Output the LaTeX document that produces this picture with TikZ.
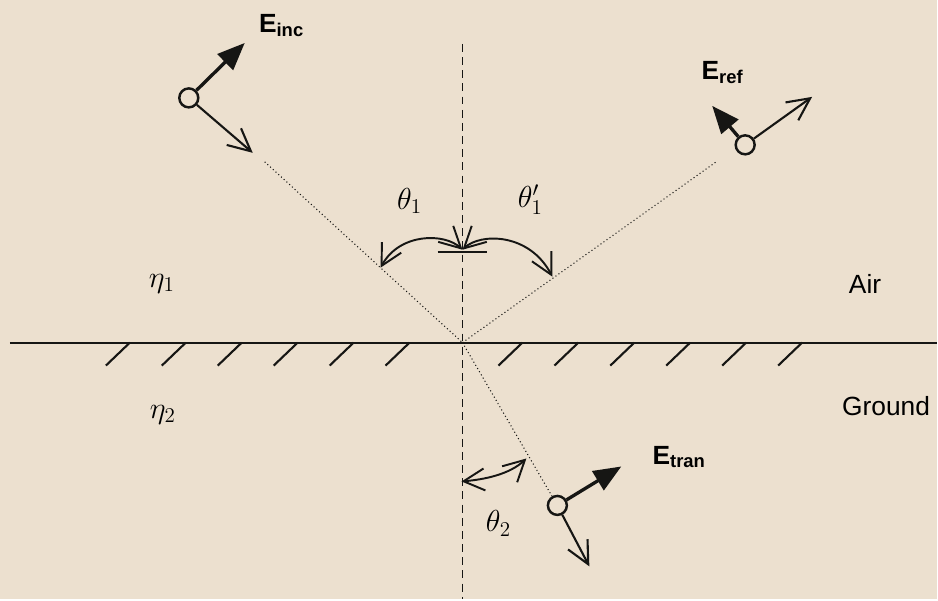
\documentclass[tikz,border=0pt]{standalone}
\usepackage{fontspec}
\setmainfont{Liberation Sans}
\usetikzlibrary{arrows.meta}
\definecolor{paper}{RGB}{236,224,207}
\definecolor{ink}{RGB}{22,22,20}
\newcommand{\fieldsub}[1]{\raisebox{-0.25ex}{\fontsize{10.5}{10.5}\selectfont #1}}

\begin{document}
\begin{tikzpicture}[x=0.02cm, y=-0.02cm,
    dot/.style={circle, draw=ink, line width=1.4pt, inner sep=0pt, minimum size=0.38cm},
    pol/.style={draw=ink, line width=1.9pt, -{Triangle[length=5.5mm,width=4.4mm]}},
    prop/.style={draw=ink, line width=1.2pt, -{Straight Barb[length=4.5mm,width=4.4mm]}},
    ray/.style={draw=ink, line width=0.6pt, dash pattern=on 0.6pt off 1.5pt},
    angarc/.style={draw=ink, line width=1.1pt, {Straight Barb[length=4.2mm,width=4.4mm]}-{Straight Barb[length=4.2mm,width=4.4mm]}},
    fieldlbl/.style={font=\bfseries\fontsize{15}{15}\selectfont, inner sep=0pt, anchor=base west},
    medlbl/.style={font=\fontsize{15}{15}\selectfont, inner sep=0pt},
    anglbl/.style={font=\fontsize{17}{17}\selectfont, inner sep=0pt}]
    % Background
    \fill[paper] (0,0) rectangle (938,600);

    % Surface and normal
    \coordinate (O) at (463,343);
    \coordinate (surfL) at (10,343);
    \coordinate (surfR) at (938,343);
    \coordinate (normT) at (463,44);
    \coordinate (normB) at (463,600);
    \draw[ink, line width=1.2pt] (surfL) -- (surfR);
    \draw[ink, line width=1.1pt, dash pattern=on 4.5pt off 3pt] (normT) -- (normB);
    \foreach \hx in {130,186,242,298,354,410,523,579,635,691,747,803}
        \draw[ink, line width=1.2pt] (\hx,343) -- ++(-24,23);

    % Rays
    \coordinate (incstart) at (265,162);
    \coordinate (refend) at (717,162);
    \draw[ray] (incstart) -- (O);
    \draw[ray] (O) -- (refend);

    % Incident wave
    \node[dot] (incdot) at (189,98) {};
    \coordinate (incpol) at (245,43);
    \coordinate (incdir) at (253,153);
    \draw[pol] (incdot) -- (incpol);
    \draw[prop] (incdot) -- (incdir);
    \node[fieldlbl] (inclbl) at (259,33) {E\fieldsub{inc}};

    % Reflected wave
    \node[dot] (refdot) at (746,145) {};
    \coordinate (refpol) at (713,106);
    \coordinate (refdir) at (813,97);
    \draw[pol] (refdot) -- (refpol);
    \draw[prop] (refdot) -- (refdir);
    \node[fieldlbl] (reflbl) at (702,80) {E\fieldsub{ref}};

    % Transmitted wave
    \node[dot] (trandot) at (558,506) {};
    \coordinate (tranpol) at (622,467);
    \coordinate (trandir) at (590,567);
    \draw[ray] (O) -- (trandot);
    \draw[pol] (trandot) -- (tranpol);
    \draw[prop] (trandot) -- (trandir);
    \node[fieldlbl] (tranlbl) at (653,465) {E\fieldsub{tran}};

    % Angles
    \coordinate (apex) at (463,250);
    \coordinate (tickL) at (438,252);
    \coordinate (tickR) at (488,252);
    \coordinate (incarc) at (381,268);
    \coordinate (refarc) at (553,277);
    \draw[ink, line width=1.3pt] (tickL) -- (tickR);
    \draw[angarc] (apex) .. controls (445,233) and (400,233) .. (incarc);
    \draw[angarc] (apex) .. controls (481,233) and (530,233) .. (refarc);
    \coordinate (normarc) at (462,482);
    \coordinate (tranarc) at (527,459);
    \draw[angarc] (normarc) .. controls (485,480) and (510,475) .. (tranarc);
    \node[anglbl] (th1) at (410,201) {$\theta_1$};
    \node[anglbl] (th1r) at (531,200) {$\theta_1'$};
    \node[anglbl] (th2) at (499,524) {$\theta_2$};

    % Media
    \node[anglbl] (eta1) at (162,284) {$\eta_1$};
    \node[anglbl] (eta2) at (163,415) {$\eta_2$};
    \node[medlbl] (air) at (866,284) {Air};
    \node[medlbl] (ground) at (887,407) {Ground};
\end{tikzpicture}
\end{document}
